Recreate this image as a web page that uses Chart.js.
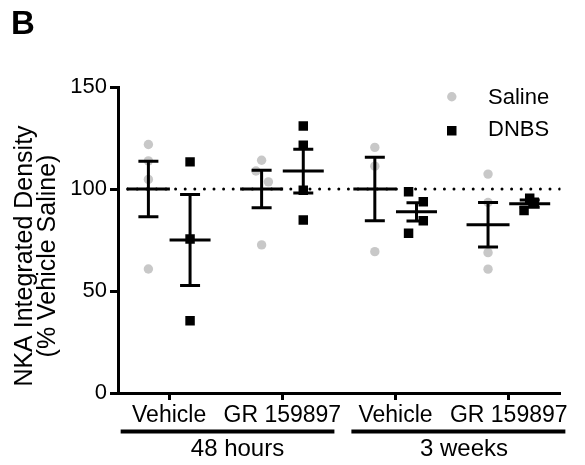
<!DOCTYPE html>
<html><head><meta charset="utf-8">
<script src="https://cdn.jsdelivr.net/npm/chart.js@4.4.1/dist/chart.umd.min.js"></script>
<style>html,body{margin:0;padding:0;background:#fff}canvas{display:block}</style>
</head><body>
<canvas id="c" width="585" height="465"></canvas>
<script>
// ---- data ----
const treatments = ['Vehicle', 'GR 159897', 'Vehicle', 'GR 159897'];
const timepoints = ['48 hours', '3 weeks'];
const yTickValues = [0, 50, 100, 150];
const seriesNames = ['Saline', 'DNBS'];
const salineValues = [[121.8, 113.8, 104.7, 60.8], [114.1, 108.8, 103.5, 72.6], [120.4, 111.2, 69.3], [107.3, 93.4, 68.8, 60.7]];
const dnbsValues = [[113.3, 75.5, 35.4], [130.9, 121.5, 99.4, 84.8], [98.6, 93.7, 84.4, 78.3], [95.5, 93.5, 89.5]];
const salineMean = [100.0, 100.0, 100.0, 82.5];
const salineSem = [13.6, 9.2, 15.6, 10.9];
const dnbsMean = [75.0, 108.8, 88.8, 92.8];
const dnbsSem = [22.3, 10.7, 4.5, 1.8];
const referenceLevel = [100];
const yTitleLines = ['NKA Integrated Density', '(% Vehicle Saline)'];
const panelLabel = 'B';

// ---- layout helpers (positions, not data) ----
const salineJitter = [[0, 0, 0, 0], [0, -0.05, 0.06, 0], [0, 0, 0], [0, 0, 0, 0]];
const dnbsJitter = [[0, 0, 0], [0, 0, 0, 0], [-0.07, 0.06, 0.06, -0.07], [0, 0.04, -0.05]];
const SAL_OFF = -0.183, DNBS_OFF = 0.185;
const X_MIN = 0.5485, X_MAX = 4.457;
const FONT = '"Liberation Sans", Arial, Helvetica, sans-serif';
const GREY = '#c8c8c8';

function pointsOf(values, jitter, off) {
  const out = [];
  values.forEach((arr, i) => arr.forEach((v, j) => out.push({x: i + 1 + off + jitter[i][j], y: v})));
  return out;
}
function meansOf(means, off) { return means.map((m, i) => ({x: i + 1 + off, y: m})); }
function capsOf(means, sems, off) {
  const out = [];
  means.forEach((m, i) => { out.push({x: i + 1 + off, y: m - sems[i]}); out.push({x: i + 1 + off, y: m + sems[i]}); });
  return out;
}
function whiskersOf(means, sems, off) {
  const out = [];
  means.forEach((m, i) => {
    out.push({x: i + 1 + off, y: m - sems[i]});
    out.push({x: i + 1 + off, y: m + sems[i]});
    out.push({x: i + 1 + off, y: null});
  });
  return out;
}

const decor = {
  id: 'decor',
  afterDraw(chart) {
    const ctx = chart.ctx, xs = chart.scales.x;
    ctx.save();
    ctx.fillStyle = '#000';
    // panel label
    ctx.font = 'bold 33px ' + FONT;
    ctx.textAlign = 'left'; ctx.textBaseline = 'alphabetic';
    ctx.fillText(panelLabel, 11, 34);
    // y title
    ctx.font = '25px ' + FONT;
    ctx.textAlign = 'center'; ctx.textBaseline = 'middle';
    const cx = [25, 48];
    yTitleLines.forEach((t, k) => {
      ctx.save();
      ctx.translate(cx[k], 256);
      ctx.rotate(-Math.PI / 2);
      ctx.fillText(t, 0, 0);
      ctx.restore();
    });
    // group brackets
    const spans = [[0.572, 2.46], [2.61, 4.5]];
    const textPos = [1.604, 3.605];
    ctx.lineWidth = 4; ctx.strokeStyle = '#000';
    ctx.font = '24px ' + FONT;
    timepoints.forEach((t, k) => {
      const a = xs.getPixelForValue(spans[k][0]), b = xs.getPixelForValue(spans[k][1]);
      ctx.beginPath(); ctx.moveTo(a, 431.5); ctx.lineTo(b, 431.5); ctx.stroke();
      ctx.fillText(t, xs.getPixelForValue(textPos[k]), 449);
    });
    // legend
    ctx.font = '22px ' + FONT;
    ctx.textAlign = 'left';
    ctx.fillStyle = GREY;
    ctx.beginPath(); ctx.arc(451.8, 96.7, 4.7, 0, Math.PI * 2); ctx.fill();
    ctx.fillStyle = '#000';
    ctx.fillRect(447, 126, 9.5, 9.5);
    ctx.fillText(seriesNames[0], 488, 97.5);
    ctx.fillText(seriesNames[1], 488, 130);
    ctx.restore();
  }
};

new Chart(document.getElementById('c'), {
  type: 'scatter',
  data: {
    datasets: [
      { label: 'Saline mean', data: meansOf(salineMean, SAL_OFF), pointStyle: 'line', radius: 21.5, borderWidth: 3, borderColor: '#000', order: 0 },
      { label: 'DNBS mean', data: meansOf(dnbsMean, DNBS_OFF), pointStyle: 'line', radius: 20.5, borderWidth: 3, borderColor: '#000', order: 0 },
      { label: 'Saline caps', data: capsOf(salineMean, salineSem, SAL_OFF), pointStyle: 'line', radius: 10, borderWidth: 3, borderColor: '#000', order: 0 },
      { label: 'DNBS caps', data: capsOf(dnbsMean, dnbsSem, DNBS_OFF), pointStyle: 'line', radius: 10, borderWidth: 3, borderColor: '#000', order: 0 },
      { type: 'line', label: 'Saline SEM', data: whiskersOf(salineMean, salineSem, SAL_OFF), borderColor: '#000', borderWidth: 3, pointRadius: 0, spanGaps: false, order: 1 },
      { type: 'line', label: 'DNBS SEM', data: whiskersOf(dnbsMean, dnbsSem, DNBS_OFF), borderColor: '#000', borderWidth: 3, pointRadius: 0, spanGaps: false, order: 1 },
      { type: 'line', label: 'Reference', data: [{x: X_MIN, y: referenceLevel[0]}, {x: X_MAX, y: referenceLevel[0]}], borderColor: '#000', borderWidth: 3, borderDash: [0, 9.6], borderCapStyle: 'round', pointRadius: 0, order: 2 },
      { label: seriesNames[0], data: pointsOf(salineValues, salineJitter, SAL_OFF), pointStyle: 'circle', radius: 4.7, borderWidth: 0, backgroundColor: GREY, order: 3 },
      { label: seriesNames[1], data: pointsOf(dnbsValues, dnbsJitter, DNBS_OFF), pointStyle: 'rect', radius: 6.7, borderWidth: 0, backgroundColor: '#000', order: 3 }
    ]
  },
  options: {
    responsive: false,
    animation: false,
    events: [],
    layout: { padding: { top: 87, right: 8, left: 0, bottom: 0 } },
    plugins: { legend: { display: false }, tooltip: { enabled: false } },
    scales: {
      x: {
        type: 'linear', min: X_MIN, max: X_MAX,
        afterBuildTicks: s => { s.ticks = treatments.map((_, i) => ({value: i + 1})); },
        afterFit: s => { s.height = 72; },
        ticks: { callback: v => treatments[v - 1] || '', autoSkip: false, maxRotation: 0, minRotation: 0, padding: 2, color: '#000', font: { family: FONT, size: 23 } },
        grid: { drawOnChartArea: false, drawTicks: true, tickLength: 7, tickWidth: 3, tickColor: '#000' },
        border: { display: true, color: '#000', width: 3 }
      },
      y: {
        min: 0, max: 150,
        afterBuildTicks: s => { s.ticks = yTickValues.map(v => ({value: v})); },
        afterFit: s => { s.width = 118; },
        ticks: { padding: 3, color: '#000', font: { family: FONT, size: 22 } },
        grid: { drawOnChartArea: false, drawTicks: true, tickLength: 8, tickWidth: 3, tickColor: '#000' },
        border: { display: true, color: '#000', width: 3 }
      }
    }
  },
  plugins: [decor]
});
</script>
</body></html>
